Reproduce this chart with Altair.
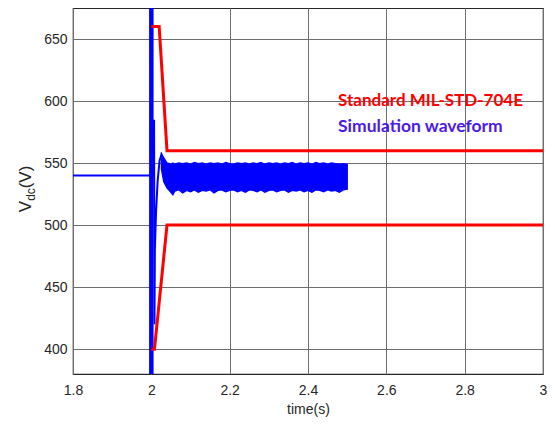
import altair as alt
import pandas as pd

# ---- data ----
# pre-fault DC link level
flat_t = [1.8, 2.0]
flat_v = [540, 540]

# large switching excursion at t = 2 s (runs off the axes)
spike_t = [2.0, 2.0]
spike_v = [380, 675]

# thin transient trace after the event
tr_t = [2.0, 2.004, 2.007, 2.008, 2.009, 2.012, 2.016, 2.021, 2.026, 2.031]
tr_v = [540, 540, 585, 420, 480, 510, 535, 552, 557, 553]

# envelope of the ripple band
band_t = [2.026, 2.032, 2.04, 2.05, 2.055, 2.06, 2.07, 2.08, 2.09, 2.1, 2.11, 2.12,
          2.13, 2.14, 2.15, 2.16, 2.17, 2.18, 2.19, 2.2, 2.21, 2.22, 2.23, 2.24,
          2.25, 2.26, 2.27, 2.28, 2.29, 2.3, 2.31, 2.32, 2.33, 2.34, 2.35, 2.36,
          2.37, 2.38, 2.39, 2.4, 2.41, 2.42, 2.43, 2.44, 2.45, 2.46, 2.47, 2.48,
          2.49, 2.5]
band_hi = [557, 554, 550, 549, 550, 549, 550, 549.5, 550, 549, 550.5, 549.5,
           550, 549, 550, 549.5, 550, 549, 550.5, 549.5, 549, 550, 549.5, 550,
           549, 550, 549.5, 550.5, 549, 550, 549.5, 550, 549, 550, 549.5, 550.5,
           549, 550, 549.5, 550, 549, 550.5, 549.5, 550, 549, 550, 549.5, 549,
           549.5, 549]
band_lo = [545, 535, 530, 526.5, 524.5, 527.5, 528.5, 526, 528, 527, 528.5, 526.5,
           528, 527.5, 528.5, 526, 528, 528.5, 527, 528, 528.5, 527, 528, 526.5,
           528.5, 528, 527, 528.5, 526.5, 528, 528.5, 527, 528, 528.5, 526.5, 528,
           527.5, 528.5, 527, 528, 526.5, 528.5, 528, 527, 528.5, 527.5, 528, 526.5,
           528.5, 529]

# MIL-STD-704E limits
up_t = [2.0, 2.02, 2.04, 3.0]
up_v = [660, 660, 560, 560]
lo_t = [2.0, 2.008, 2.04, 3.0]
lo_v = [400, 400, 500, 500]

x_ticks = [1.8, 2.0, 2.2, 2.4, 2.6, 2.8, 3.0]
y_ticks = [400, 450, 500, 550, 600, 650]

legend_red = "Standard MIL-STD-704E"
legend_blue = "Simulation waveform"

# ---- frames ----
def seq(t, v):
    return pd.DataFrame({"t": t, "v": v, "i": list(range(len(t)))})

flat_df = seq(flat_t, flat_v)
spike_df = seq(spike_t, spike_v)
tr_df = seq(tr_t, tr_v)
up_df = seq(up_t, up_v)
lo_df = seq(lo_t, lo_v)
band_df = pd.DataFrame({"t": band_t, "hi": band_hi, "lo": band_lo})

FONT = "Liberation Sans"
TXT = "#262626"

xs = alt.Scale(domain=[1.8, 3.0], nice=False, zero=False)
ys = alt.Scale(domain=[380, 675], nice=False, zero=False)

xax = alt.Axis(values=x_ticks, title="time(s)", format="~g", labelFontSize=14,
               titleFontSize=14, titleFontWeight="normal", labelPadding=9,
               titlePadding=5, labelFont=FONT, titleFont=FONT,
               labelColor=TXT, titleColor=TXT, labelFlush=False)
yax = alt.Axis(values=y_ticks, title=None, labelFontSize=14, labelPadding=6,
               labelFont=FONT, labelColor=TXT)

X = alt.X("t:Q", scale=xs, axis=xax)
Y = alt.Y("v:Q", scale=ys, axis=yax)

BLUE = "#0000ff"
RED = "#ff0000"

base_flat = alt.Chart(flat_df).mark_line(color=BLUE, strokeWidth=2, clip=True).encode(
    x=X, y=Y, order="i:Q")
spike = alt.Chart(spike_df).mark_line(color=BLUE, strokeWidth=4.5, clip=True).encode(
    x="t:Q", y="v:Q", order="i:Q")
trans = alt.Chart(tr_df).mark_line(color=BLUE, strokeWidth=2, clip=True).encode(
    x="t:Q", y="v:Q", order="i:Q")
band = alt.Chart(band_df).mark_area(color=BLUE, opacity=1, stroke=BLUE,
                                    strokeWidth=1.5, clip=True).encode(
    x="t:Q", y="hi:Q", y2="lo:Q")
upper = alt.Chart(up_df).mark_line(color=RED, strokeWidth=3, clip=True).encode(
    x="t:Q", y="v:Q", order="i:Q")
lower = alt.Chart(lo_df).mark_line(color=RED, strokeWidth=3, clip=True).encode(
    x="t:Q", y="v:Q", order="i:Q")

lab_font = "Lato"
t_red = alt.Chart(pd.DataFrame({"s": [legend_red]})).mark_text(
    align="left", baseline="middle", font=lab_font, fontWeight="bold",
    fontSize=17, color=RED).encode(x=alt.value(265), y=alt.value(93), text="s:N")
t_blue = alt.Chart(pd.DataFrame({"s": [legend_blue]})).mark_text(
    align="left", baseline="middle", font=lab_font, fontWeight="bold",
    fontSize=17.5, color="#4d19e6").encode(x=alt.value(265), y=alt.value(119), text="s:N")

# y-axis title V_dc(V) built from pieces (subscript)
yt1 = alt.Chart(pd.DataFrame({"s": ["V"]})).mark_text(
    angle=270, align="center", baseline="middle", font=FONT, fontSize=17,
    color=TXT).encode(x=alt.value(-47), y=alt.value(198.5), text="s:N")
yt2 = alt.Chart(pd.DataFrame({"s": ["dc"]})).mark_text(
    angle=270, align="center", baseline="middle", font=FONT, fontSize=12,
    color=TXT).encode(x=alt.value(-42), y=alt.value(186.5), text="s:N")
yt3 = alt.Chart(pd.DataFrame({"s": ["(V)"]})).mark_text(
    angle=270, align="center", baseline="middle", font=FONT, fontSize=17,
    color=TXT).encode(x=alt.value(-47), y=alt.value(169), text="s:N")

chart = alt.layer(base_flat, spike, trans, band, upper, lower,
                  t_red, t_blue, yt1, yt2, yt3).properties(
    width=470, height=366,
    autosize=alt.AutoSizeParams(type="none"),
    padding={"left": 65, "top": 0, "right": 4, "bottom": 44},
    background="white",
).configure_axis(
    grid=True, gridColor="#6e6e6e", gridWidth=1, domain=False, ticks=False,
).configure_view(stroke="#262626", strokeWidth=1.2)

chart.save("out.html", embed_options={"renderer": "svg", "actions": False})
